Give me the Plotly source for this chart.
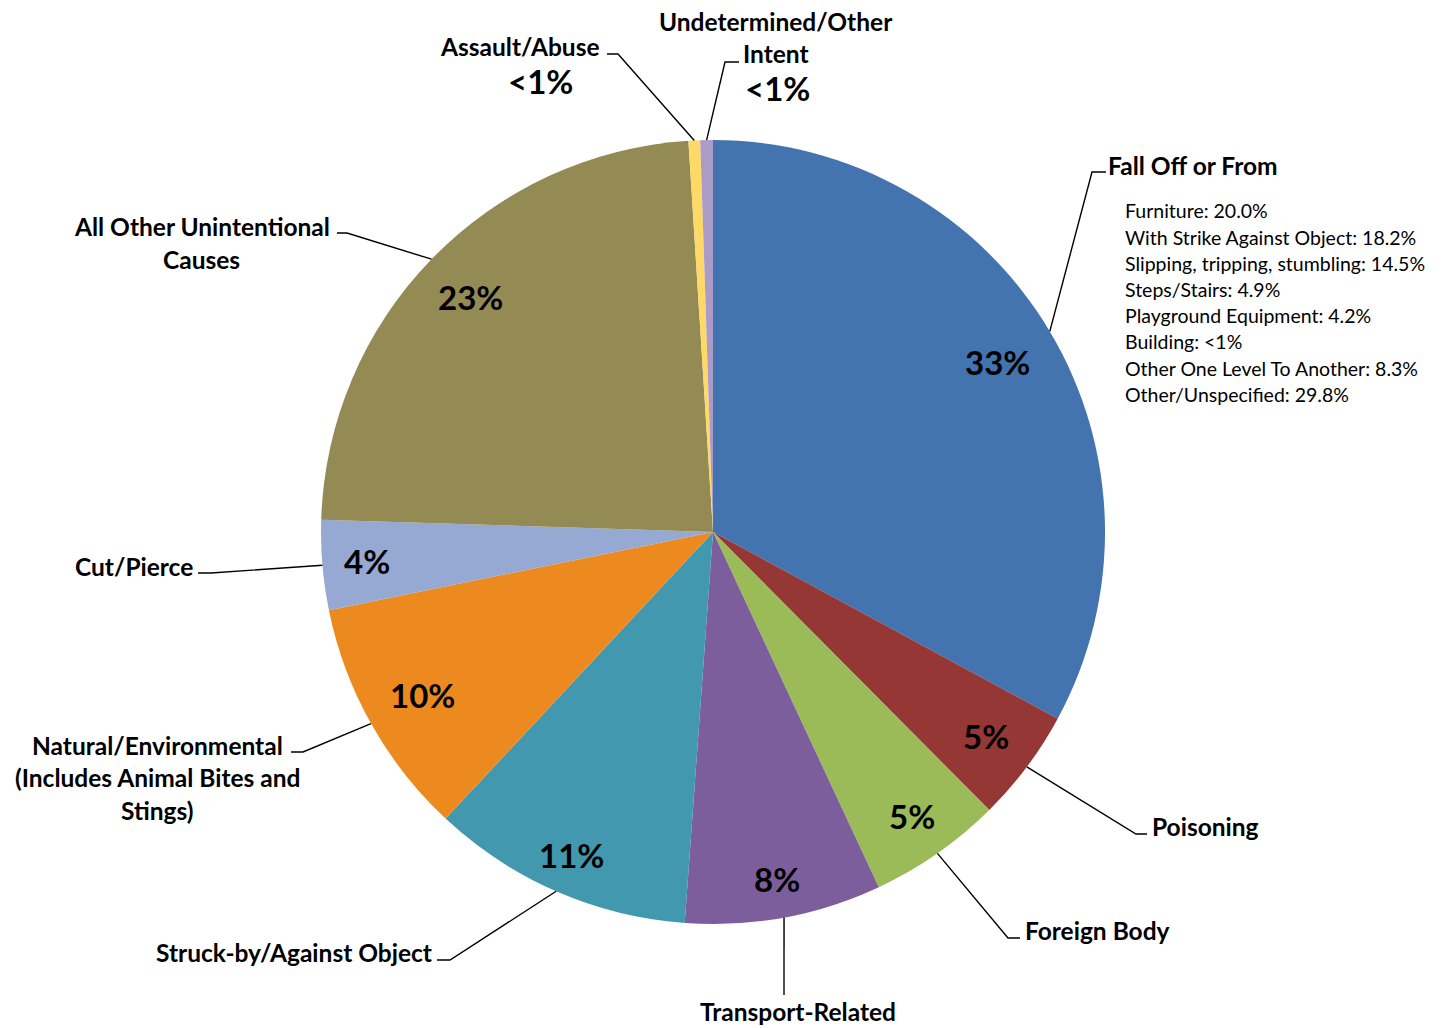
import math
import plotly.graph_objects as go

# ---------------- data ----------------
categories = [
    "Fall Off or From",
    "Poisoning",
    "Foreign Body",
    "Transport-Related",
    "Struck-by/Against Object",
    "Natural/Environmental<br>(Includes Animal Bites and<br>Stings)",
    "Cut/Pierce",
    "All Other Unintentional<br>Causes",
    "Assault/Abuse",
    "Undetermined/Other<br>Intent",
]
values = [32.9, 4.65, 5.5, 8.1, 10.8, 9.85, 3.7, 23.5, 0.48, 0.52]
pct_text = ["33%", "5%", "5%", "8%", "11%", "10%", "4%", "23%", "<1%", "<1%"]
colors = ["#4374B0", "#953735", "#9BBB59", "#7B5E9B", "#4298AF",
          "#ED8A1F", "#95A9D2", "#948A54", "#FFD966", "#AB9CC7"]

fall_sub_labels = ["Furniture", "With Strike Against Object",
                   "Slipping, tripping, stumbling", "Steps/Stairs",
                   "Playground Equipment", "Building",
                   "Other One Level To Another", "Other/Unspecified"]
fall_sub_values = ["20.0%", "18.2%", "14.5%", "4.9%", "4.2%", "<1%", "8.3%", "29.8%"]

# ---------------- layout geometry ----------------
W, H = 1450, 1028
CX, CY, R = 713, 532, 392


def px(x):
    return x / W


def py(y):
    return 1 - y / H


total = sum(values)
mids = []
acc = 0.0
for v in values:
    mids.append(360.0 * (acc + v / 2.0) / total)
    acc += v


def polar(theta, frac=1.0):
    t = math.radians(theta)
    return CX + frac * R * math.sin(t), CY - frac * R * math.cos(t)


# radial placement of inside percentage labels (fraction of radius)
inside_r = [0.845, 0.87, 0.885, 0.90, 0.90, 0.85, 0.885, 0.86, None, None]

# outside label layout: leader elbow/end (px), text anchor (x, first-line y, align), line pitch,
# and where an outside percentage goes (if any)
label_layout = [
    dict(elbow=(1092, 172), end=(1106, 172), text=(1106, 166, "left"), pitch=33, pct=None),
    dict(elbow=(1136, 834), end=(1147, 834), text=(1150, 826, "left"), pitch=33, pct=None),
    dict(elbow=(1008, 938), end=(1020, 938), text=(1023, 930, "left"), pitch=33, pct=None),
    dict(elbow=(784, 995), end=(784, 995), text=(798, 1011, "center"), pitch=33, pct=None),
    dict(elbow=(450, 960), end=(437, 960), text=(434, 952, "right"), pitch=33, pct=None),
    dict(elbow=(303, 752), end=(291, 752), text=(157, 745, "center"), pitch=32.5, pct=None),
    dict(elbow=(211, 573), end=(198, 573), text=(195, 566, "right"), pitch=33, pct=None),
    dict(elbow=(347, 233), end=(337, 233), text=(202, 226, "center"), pitch=33, pct=None),
    dict(elbow=(618, 54), end=(607, 54), text=(602, 47, "right"), pitch=33, pct=(540, 81)),
    dict(elbow=(725, 62), end=(739, 62), text=(776, 21, "center"), pitch=32, pct=(777, 88)),
]

LABEL_FONT = dict(family="Lato", size=24.5, color="#000000", weight="bold")
PCT_FONT = dict(family="Lato", size=33, color="#000000", weight="bold")
SUB_FONT = dict(family="Lato", size=19.5, color="#000000")

fig = go.Figure()
fig.add_trace(go.Pie(
    labels=categories,
    values=values,
    sort=False,
    direction="clockwise",
    rotation=0,
    textinfo="none",
    hoverinfo="label+percent",
    marker=dict(colors=colors, line=dict(width=0)),
    showlegend=False,
    domain=dict(x=[px(CX - R), px(CX + R)], y=[py(CY + R), py(CY - R)]),
))

annotations = []
shapes = []

# inside percentages
for i, frac in enumerate(inside_r):
    if frac is None:
        continue
    x, y = polar(mids[i], frac)
    annotations.append(dict(x=px(x), y=py(y), xref="paper", yref="paper",
                            text=pct_text[i], showarrow=False, font=PCT_FONT,
                            xanchor="center", yanchor="middle"))

# outside labels and leader lines
for i, lay in enumerate(label_layout):
    rx, ry = polar(mids[i], 1.0)
    ex, ey = lay["elbow"]
    fx, fy = lay["end"]
    path = f"M {px(rx)} {py(ry)} L {px(ex)} {py(ey)} L {px(fx)} {py(fy)}"
    shapes.append(dict(type="path", path=path, xref="paper", yref="paper",
                       line=dict(color="#000000", width=1.4)))
    tx, ty, align = lay["text"]
    for k, line in enumerate(categories[i].split("<br>")):
        annotations.append(dict(x=px(tx), y=py(ty + k * lay["pitch"]),
                                xref="paper", yref="paper", text=line,
                                showarrow=False, font=LABEL_FONT,
                                xanchor=align, yanchor="middle"))
    if lay["pct"] is not None:
        qx, qy = lay["pct"]
        annotations.append(dict(x=px(qx), y=py(qy), xref="paper", yref="paper",
                                text=pct_text[i], showarrow=False, font=PCT_FONT,
                                xanchor="center", yanchor="middle"))

# Fall breakdown list
for k, (lab, val) in enumerate(zip(fall_sub_labels, fall_sub_values)):
    annotations.append(dict(x=px(1123), y=py(211 + k * 26.2), xref="paper", yref="paper",
                            text=f"{lab}: {val}", showarrow=False, font=SUB_FONT,
                            xanchor="left", yanchor="middle"))

fig.update_layout(
    width=W, height=H,
    margin=dict(l=0, r=0, t=0, b=0),
    paper_bgcolor="#FFFFFF",
    plot_bgcolor="#FFFFFF",
    annotations=annotations,
    shapes=shapes,
)

fig.write_html("out.html",
               config={"displayModeBar": False},
               post_script="document.body.style.margin='0';document.body.style.padding='0';")
